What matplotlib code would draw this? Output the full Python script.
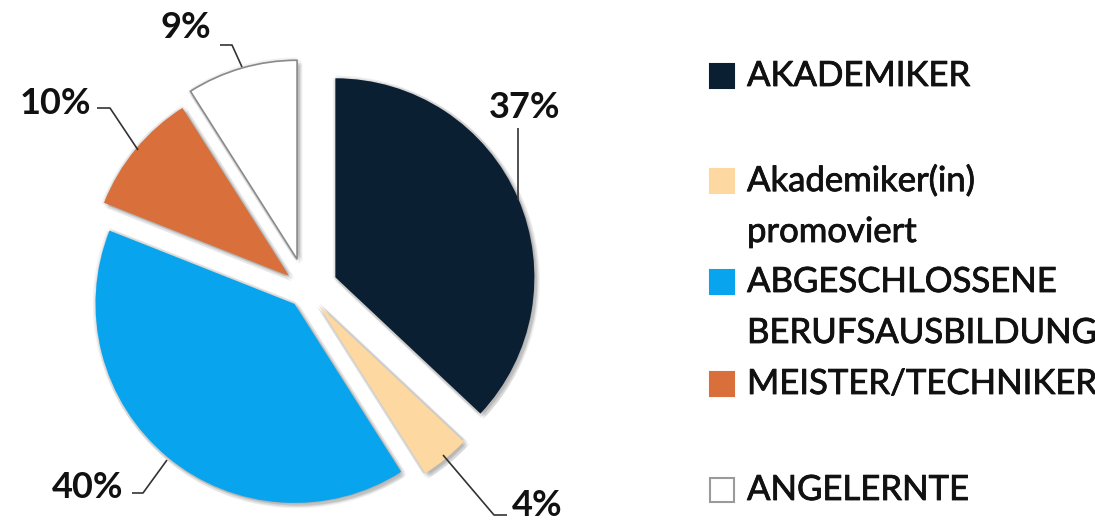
import matplotlib
matplotlib.use("Agg")
import matplotlib.pyplot as plt                    # noqa: E402
from matplotlib import patheffects as pe           # noqa: E402
from matplotlib.patches import Rectangle           # noqa: E402

# ------------------------------------------------------------------ data -------
categories = ["AKADEMIKER", "Akademiker(in)\npromoviert", "ABGESCHLOSSENE\nBERUFSAUSBILDUNG",
              "MEISTER/TECHNIKER", "ANGELERNTE"]
shares = [37, 4, 40, 10, 9]
COLORS = ["#0b1f33", "#fdd9a1", "#08a5ee", "#d9703b", "#ffffff"]

# ----------------------------------------------------------------- layout ------
W, H = 1095, 520                                   # canvas in px; axes data units == px
INK = "#111111"
EXPLODE = [32, 20, 18, 22, 32]                     # px offsets per wedge
# label anchor (px, y down) and leader polyline per wedge
LABEL_XY = [(525, 107), (537, 505), (88, 488), (55, 103), (186, 27)]
LEADERS = [
    [(518, 128), (518, 200)],
    [(507, 515), (494, 515), (443, 455)],
    [(132, 493), (143, 493), (167, 460)],
    [(97, 108), (110, 108), (138, 150)],
    [(220, 45), (232, 45), (242, 67)],
]
LEGEND_Y = [76, 181, 282, 384, 490]                # first-line centre of each entry (px)
LINE_STEP = 51


def px(x, y):
    return x, H - y


plt.rcParams["font.family"] = ["Lato", "DejaVu Sans"]

fig = plt.figure(figsize=(W / 100, H / 100), dpi=100)
ax = fig.add_axes([0, 0, 1, 1])

# soft drop shadow: a ring of faint offset copies
shadow = [pe.SimplePatchShadow(offset=(dx, dy), shadow_rgbFace="#000000", alpha=0.05)
          for dx, dy in [(0, 0), (3, -3), (-1, -1), (1, 1), (3, 0), (0, -3), (4, -2), (2, -4),
                         (-2, 0), (0, 2), (2, -2)]] + [pe.Normal()]

wedges, _ = ax.pie(shares, colors=COLORS, startangle=90, counterclock=False,
                   center=px(306, 290), radius=199, explode=EXPLODE,
                   wedgeprops=dict(linewidth=0))
wedges[4].set_edgecolor("#8a8a8a")
wedges[4].set_linewidth(1.2)
for w in wedges:
    w.set_path_effects(shadow)

for v, (tx, ty), pts in zip(shares, LABEL_XY, LEADERS):
    ax.text(*px(tx, ty), f"{v}%", ha="center", va="center", fontsize=26,
            fontweight="bold", color=INK)
    xs, ys = zip(*[px(x, y) for x, y in pts])
    ax.plot(xs, ys, color="#333333", lw=1.2, solid_capstyle="butt")

# legend drawn by hand so the spacing matches the original
heavy = [pe.withStroke(linewidth=0.6, foreground=INK)]
for cat, col, y0 in zip(categories, COLORS, LEGEND_Y):
    ec = "#9a9a9a" if col == "#ffffff" else col
    ax.add_patch(Rectangle(px(710, y0 + 12), 24, 24, facecolor=col, edgecolor=ec, lw=1.5))
    for i, line in enumerate(cat.split("\n")):
        ax.text(*px(747, y0 + i * LINE_STEP), line, ha="left", va="center",
                fontsize=25, color=INK, path_effects=heavy)

ax.set_xlim(0, W)
ax.set_ylim(0, H)
ax.set_aspect("equal")
ax.axis("off")

fig.savefig("out.png", dpi=100)
